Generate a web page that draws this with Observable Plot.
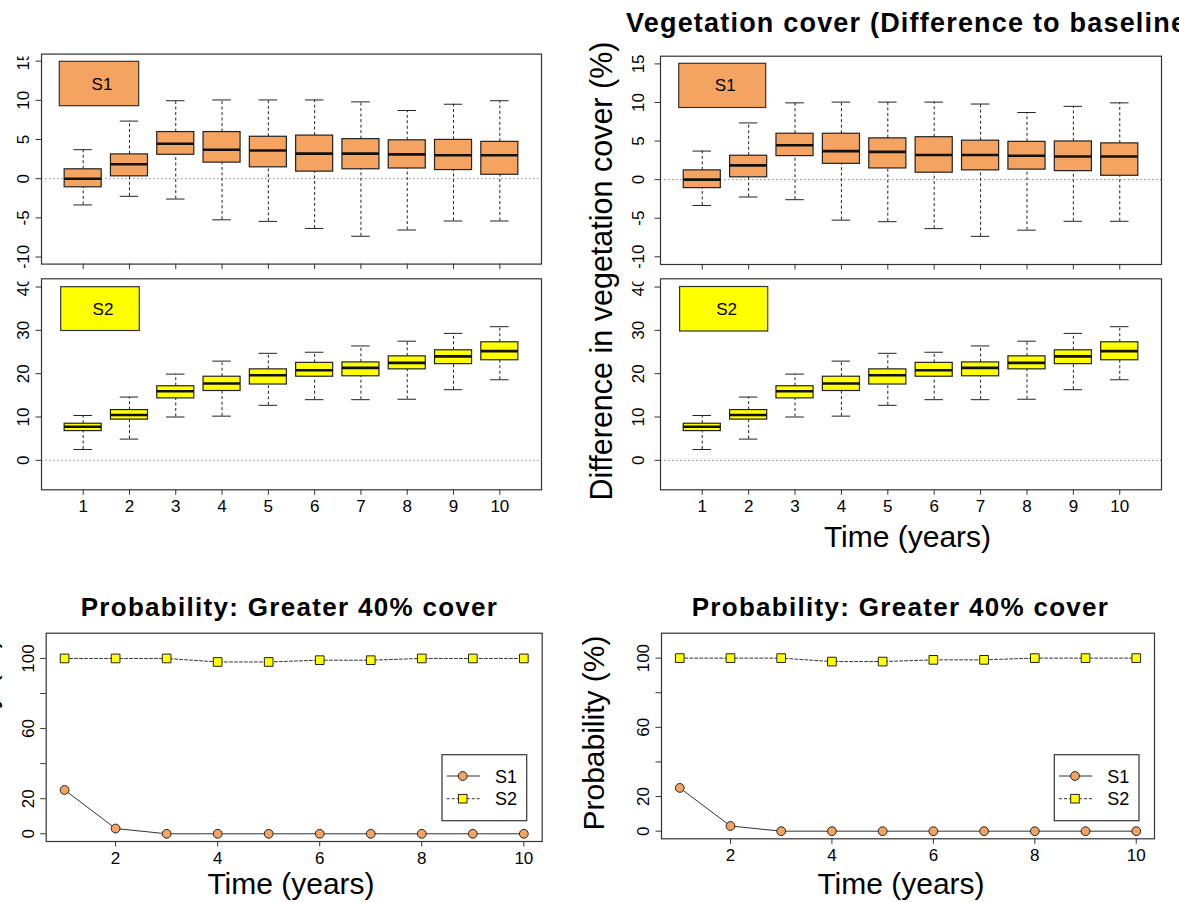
<!DOCTYPE html>
<html><head><meta charset="utf-8">
<script src="https://cdn.jsdelivr.net/npm/d3@7"></script>
<script src="https://cdn.jsdelivr.net/npm/@observablehq/plot@0.6"></script>
<style>
body{margin:0;background:#fff;}
#page{position:relative;width:1179px;height:902px;overflow:hidden;background:#fff;}
#page > svg{position:absolute;max-width:none;}
</style></head><body><div id="page"></div>
<script>
// ---------- data ----------
const years = [1,2,3,4,5,6,7,8,9,10];
const s1Lower  = [-3.35,-2.25,-2.6,-5.25,-5.45,-6.35,-7.35,-6.55,-5.4,-5.4];
const s1Q1     = [-1.1,0.3,3.05,2.05,1.45,0.9,1.2,1.3,1.1,0.5];
const s1Median = [0.0,1.85,4.45,3.7,3.6,3.2,3.2,3.1,3.0,3.0];
const s1Q3     = [1.2,3.1,5.95,5.95,5.35,5.5,5.05,4.9,4.95,4.7];
const s1Upper  = [3.7,7.35,9.95,10.05,10.05,10.05,9.8,8.7,9.5,9.95];
const s2Lower  = [2.5,4.9,10.0,10.2,12.7,14.0,14.0,14.1,16.3,18.6];
const s2Q1     = [6.75,9.4,14.3,16.0,17.5,19.3,19.4,21.0,22.2,23.1];
const s2Median = [7.75,10.45,15.95,17.75,19.65,20.8,21.35,22.5,24.0,25.2];
const s2Q3     = [8.45,11.6,17.1,19.3,21.0,22.5,22.6,24.0,25.4,27.25];
const s2Upper  = [10.35,14.6,19.9,22.9,24.7,24.95,26.4,27.5,29.3,30.85];
const probS1 = [25,3,0,0,0,0,0,0,0,0];
const probS2 = [100,100,100,98,98,99,99,100,100,100];
const s1Ticks = [-10,-5,0,5,10,15];
const s2Ticks = [0,10,20,30,40];
const probTicks = [0,20,40,60,80,100];
const probLabelled = [0,20,60,100];
const probXTicks = [2,4,6,8,10];
const colS1 = "#F4A460", colS2 = "#FFFF00";

const FONT = "'Liberation Sans', Arial, Helvetica, sans-serif";
const page = document.getElementById("page");

function boxRows(lo,q1,md,q3,hi){return years.map((t,i)=>({year:t,lower:lo[i],q1:q1[i],median:md[i],q3:q3[i],upper:hi[i]}));}
const rowsS1 = boxRows(s1Lower,s1Q1,s1Median,s1Q3,s1Upper);
const rowsS2 = boxRows(s2Lower,s2Q1,s2Median,s2Q3,s2Upper);
const probRows = years.map((t,i)=>({year:t,s1:probS1[i],s2:probS2[i]}));

function place(svg, box){
  svg.style.left = box.l+"px"; svg.style.top = box.t+"px";
  page.appendChild(svg);
}
function common(fr, box){
  return {
    width: box.r-box.l, height: box.b-box.t,
    marginLeft: fr.l-box.l, marginRight: box.r-fr.r,
    marginTop: fr.t-box.t, marginBottom: box.b-fr.b,
    style:{fontFamily:FONT,fontSize:"17px",color:"#000",background:"transparent",overflow:"hidden"}
  };
}

function boxPanel(rows, fill, yDomain, yTicks, showX, fr, box, yPad){
  const svg = Plot.plot({
    ...common(fr, box),
    x:{domain:[0.1,10.9]},
    y:{domain:yDomain},
    marks:[
      Plot.ruleY([0],{stroke:"#888",strokeDasharray:"1.5,2.5",strokeWidth:1}),
      Plot.ruleX(rows,{x:"year",y1:"q3",y2:"upper",stroke:"#222",strokeDasharray:"3,2.5",strokeWidth:1}),
      Plot.ruleX(rows,{x:"year",y1:"lower",y2:"q1",stroke:"#222",strokeDasharray:"3,2.5",strokeWidth:1}),
      Plot.ruleY(rows,{y:"upper",x1:d=>d.year-0.2,x2:d=>d.year+0.2,stroke:"#222",strokeWidth:1}),
      Plot.ruleY(rows,{y:"lower",x1:d=>d.year-0.2,x2:d=>d.year+0.2,stroke:"#222",strokeWidth:1}),
      Plot.rect(rows,{x1:d=>d.year-0.4,x2:d=>d.year+0.4,y1:"q1",y2:"q3",fill:fill,stroke:"#222",strokeWidth:1.2}),
      Plot.ruleY(rows,{y:"median",x1:d=>d.year-0.4,x2:d=>d.year+0.4,stroke:"#111",strokeWidth:2.6}),
      Plot.frame({stroke:"#333",strokeWidth:1.2}),
      Plot.axisY({ticks:yTicks,tickSize:5.5,tickRotate:-90,tickPadding:yPad,tickFormat:d=>String(d),stroke:"#333",label:null}),
      Plot.axisX({ticks:years,tickSize:5.5,tickPadding:4.5,tickFormat:showX?(d=>String(d)):(()=>""),stroke:"#333",label:null})
    ]
  });
  place(svg, box);
}

function probPanel(fr, box){
  const svg = Plot.plot({
    ...common(fr, box),
    x:{domain:[0.64,10.36]},
    y:{domain:[-4.4,114.4]},
    marks:[
      Plot.line(probRows,{x:"year",y:"s2",stroke:"#333",strokeDasharray:"3,2",strokeWidth:1}),
      Plot.line(probRows,{x:"year",y:"s1",stroke:"#333",strokeWidth:1}),
      Plot.dot(probRows,{x:"year",y:"s1",r:4.4,fill:colS1,stroke:"#222",strokeWidth:1}),
      Plot.dot(probRows,{x:"year",y:"s2",symbol:"square",r:4.9,fill:colS2,stroke:"#222",strokeWidth:1}),
      Plot.frame({stroke:"#333",strokeWidth:1.2}),
      Plot.axisY({ticks:probTicks,tickSize:5.5,tickRotate:-90,tickPadding:6.8,tickFormat:d=>probLabelled.includes(d)?String(d):"",stroke:"#333",label:null}),
      Plot.axisX({ticks:probXTicks,tickSize:5.5,tickPadding:5,tickFormat:d=>String(d),stroke:"#333",label:null})
    ]
  });
  place(svg, box);
}

// left column (cropped copy of the figure)
boxPanel(rowsS1, colS1, [-10.9,15.9], s1Ticks, false, {l:41,t:54,r:541,b:264}, {l:0,t:53.4,r:570,b:277}, 7.5);
boxPanel(rowsS2, colS2, [-6.8,41.9], s2Ticks, true, {l:41,t:278.3,r:541,b:489.3}, {l:0,t:277,r:570,b:525}, 7.5);
// right column
boxPanel(rowsS1, colS1, [-11,16], s1Ticks, false, {l:660,t:55.7,r:1161,b:264}, {l:580,t:40,r:1179,b:277}, 11);
boxPanel(rowsS2, colS2, [-6.8,41.9], s2Ticks, true, {l:660,t:278.3,r:1161,b:489.3}, {l:580,t:277,r:1179,b:525}, 11);
// probability panels
probPanel({l:45.7,t:632.7,r:541.7,b:841}, {l:0,t:622,r:575,b:875});
probPanel({l:661,t:632.7,r:1154,b:838.3}, {l:580,t:622,r:1179,b:875});

// ---------- overlay: titles, axis labels, legends ----------
const NS = "http://www.w3.org/2000/svg";
const ov = document.createElementNS(NS,"svg");
ov.setAttribute("width",1179); ov.setAttribute("height",902);
ov.style.left="0px"; ov.style.top="0px"; ov.style.fontFamily=FONT; ov.style.pointerEvents="none";
page.appendChild(ov);
function el(tag, attrs, text){
  const e = document.createElementNS(NS, tag);
  for (const k in attrs) e.setAttribute(k, attrs[k]);
  if (text != null) e.textContent = text;
  ov.appendChild(e); return e;
}
function txt(x,y,s,size,opts={}){
  return el("text",{x,y,"font-size":size,"text-anchor":opts.anchor||"middle","font-weight":opts.bold?"bold":"normal",
    "letter-spacing":opts.ls||0,fill:"#000",transform:opts.rot?`rotate(-90 ${x} ${y})`:""},s);
}
// clipped label tops as in the reference (figure-region edges)
el("rect",{x:0,y:268,width:34,height:13.5,fill:"#fff"});
el("rect",{x:600,y:268,width:53,height:13.5,fill:"#fff"});
el("rect",{x:0,y:40,width:34,height:16.5,fill:"#fff"});

// main title (cut off by the page edge in the reference)
txt(626,31.7,"Vegetation cover (Difference to baseline)",27,{anchor:"start",bold:true,ls:1.2});
// y labels of box panels
txt(612,271,"Difference in vegetation cover (%)",30.5,{rot:true});
txt(-7,271,"Difference in vegetation cover (%)",30.5,{rot:true});
txt(907.5,546.7,"Time (years)",30);
// probability titles and labels
txt(289.5,616,"Probability: Greater 40% cover",26,{bold:true,ls:1.3});
txt(900.5,616,"Probability: Greater 40% cover",26,{bold:true,ls:1.3});
txt(291,894,"Time (years)",30);
txt(901,894,"Time (years)",30);
txt(604,733,"Probability (%)",30,{rot:true});
txt(-4.5,736,"Probability (%)",30,{rot:true});

// filled legend boxes of the box panels
function fillLegend(x1,y1,x2,y2,fill,label){
  el("rect",{x:x1,y:y1,width:x2-x1,height:y2-y1,fill,stroke:"#333","stroke-width":1.2});
  txt((x1+x2)/2+3,(y1+y2)/2+6,label,17);
}
fillLegend(59.3,61.3,138.7,105.7,colS1,"S1");
fillLegend(60.7,286.7,139.3,330.5,colS2,"S2");
fillLegend(678.7,63.3,765.7,107.5,colS1,"S1");
fillLegend(679.6,286.5,767.7,331,colS2,"S2");

// line/point legends of the probability panels
function lineLegend(x1,y1){
  el("rect",{x:x1,y:y1,width:84.7,height:66,fill:"#fff",stroke:"#333","stroke-width":1.2});
  const r1 = y1+21.3, r2 = y1+44;
  el("line",{x1:x1+4.7,x2:x1+38,y1:r1,y2:r1,stroke:"#333","stroke-width":1});
  el("circle",{cx:x1+20.7,cy:r1,r:4.4,fill:colS1,stroke:"#222"});
  el("line",{x1:x1+4.7,x2:x1+38,y1:r2,y2:r2,stroke:"#333","stroke-width":1,"stroke-dasharray":"3,2"});
  el("rect",{x:x1+20.7-4.3,y:r2-4.3,width:8.6,height:8.6,fill:colS2,stroke:"#222"});
  txt(x1+53,r1+6.5,"S1",18,{anchor:"start"});
  txt(x1+53,r2+6.5,"S2",18,{anchor:"start"});
}
lineLegend(442,754.7);
lineLegend(1054.3,754.7);
</script></body></html>
